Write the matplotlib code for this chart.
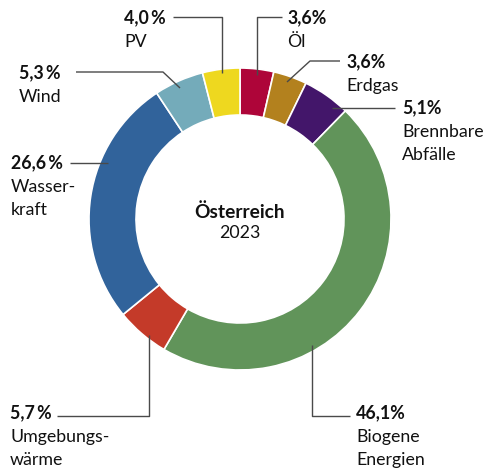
import matplotlib.pyplot as plt

# data, clockwise from 12 o'clock
labels = ["Öl", "Erdgas", "Brennbare\nAbfälle", "Biogene\nEnergien",
          "Umgebungs-\nwärme", "Wasser-\nkraft", "Wind", "PV"]
shares = [3.6, 3.6, 5.1, 46.1, 5.7, 26.6, 5.3, 4.0]
pct_text = ["3,6%", "3,6%", "5,1%", "46,1%", "5,7\u2009%", "26,6\u2009%", "5,3\u2009%", "4,0\u2009%"]
colors = ["#AE0539", "#B3811E", "#43166A", "#61945A",
          "#C43A29", "#31639B", "#74ABBA", "#EED81F"]

W, H = 483, 469
FONT = ["Lato", "DejaVu Sans"]
FS = 12.8
LINE = "#4a4a4a"


def Y(y):
    # image pixel row -> data y
    return H - y


fig = plt.figure(figsize=(W / 100, H / 100), dpi=100)
ax = fig.add_axes([0, 0, 1, 1])

ax.pie(shares, colors=colors, startangle=90, counterclock=False,
       center=(240, Y(219)), radius=151,
       wedgeprops=dict(width=47, edgecolor="white", linewidth=1.2))
ax.set_xlim(0, W)
ax.set_ylim(0, H)
ax.set_aspect("equal")
ax.axis("off")

# label layout: (text x, y of percent line, leader polyline in image px)
layout = [
    (287, 18, [(282, 17), (257, 17), (257, 75)]),
    (346, 62, [(340, 61), (310, 61), (287, 82)]),
    (402, 108, [(395, 108), (332, 108)]),
    (356, 413, [(350, 416), (312, 416), (312, 345)]),
    (10, 413, [(57, 416), (149, 416), (149, 335)]),
    (11, 163, [(70, 163), (108, 163)]),
    (19, 73, [(76, 72), (163, 72), (180, 88)]),
    (124, 18, [(173, 17), (222, 17), (222, 73)]),
]

for name, pct, (tx, ty, pts) in zip(labels, pct_text, layout):
    ax.text(tx, Y(ty), pct, fontsize=FS, fontweight="bold", family=FONT,
            ha="left", va="center", color="#111111")
    for i, part in enumerate(name.split("\n")):
        ax.text(tx, Y(ty + 24 + 23 * i), part, fontsize=FS, family=FONT,
                ha="left", va="center", color="#111111")
    xs = [p[0] for p in pts]
    ys = [Y(p[1]) for p in pts]
    ax.plot(xs, ys, color=LINE, lw=1, solid_capstyle="butt")

ax.text(240, Y(212), "Österreich", fontsize=13.8, fontweight="bold", family=FONT,
        ha="center", va="center", color="#111111")
ax.text(240, Y(233), "2023", fontsize=12.8, family=FONT,
        ha="center", va="center", color="#111111")

fig.savefig("out.png", dpi=100)
